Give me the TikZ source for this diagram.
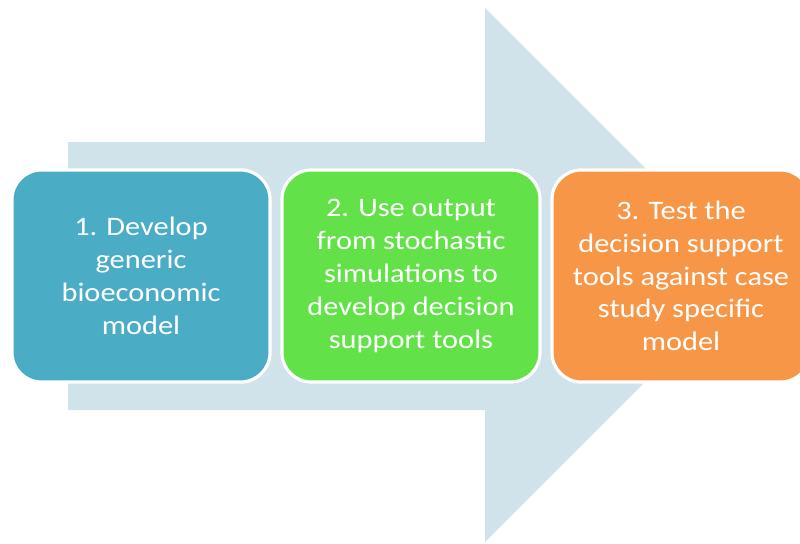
\documentclass[tikz,border=0pt]{standalone}
\usepackage{fontspec}
\setmainfont{Carlito}[FakeStretch=1.14]
\usetikzlibrary{positioning}

\definecolor{arrowgrey}{HTML}{D0E2EA}
\definecolor{stepblue}{HTML}{4BACC6}
\definecolor{stepgreen}{HTML}{62E149}
\definecolor{steporange}{HTML}{F79646}

\tikzset{
  stepbox/.style={draw=white, line width=2.4pt, rounded corners=22pt,
    minimum width=193.5pt, minimum height=159pt, align=center,
    text=white, font=\fontsize{20}{24.6}\selectfont},
}

\begin{document}
\begin{tikzpicture}[x=0.75pt,y=-0.75pt]
\useasboundingbox (0,0) rectangle (800,543);
\clip (0,0) rectangle (800,543);
% Big arrow behind
\fill[arrowgrey] (68,142) -- (485,142) -- (485,8) -- (752,275)
  -- (485,542) -- (485,410) -- (68,410) -- cycle;
% Steps
\node[stepbox, fill=stepblue] (develop) at (141,276)
  {1. Develop\\generic\\bioeconomic\\model};
\node[stepbox, fill=stepgreen, right=6.6pt of develop] (output)
  {2. Use output\\from stochastic\\simulations to\\develop decision\\support tools};
\node[stepbox, fill=steporange, right=6.6pt of output] (test)
  {3. Test the\\decision support\\tools against case\\study specific\\model};
\end{tikzpicture}
\end{document}
